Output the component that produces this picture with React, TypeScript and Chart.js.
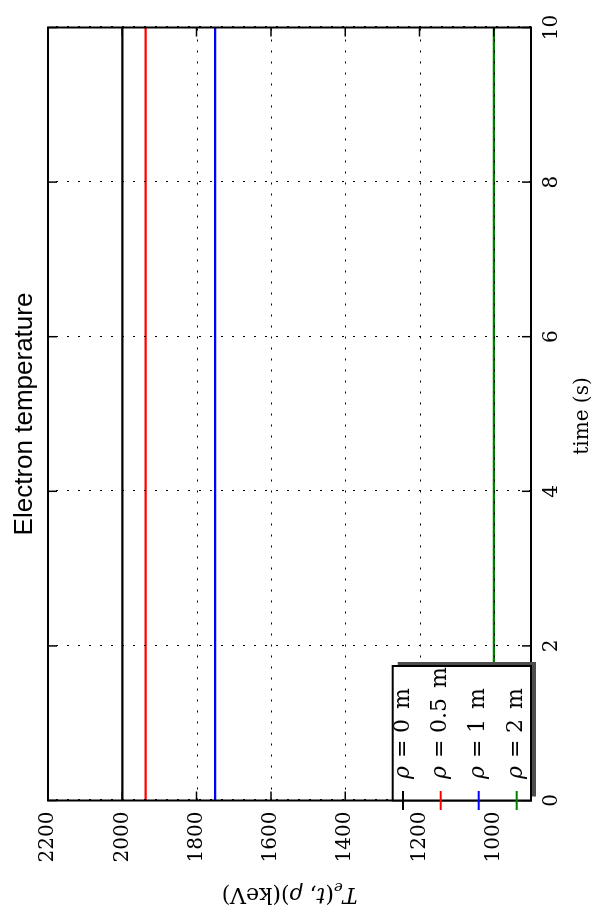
import React, { useEffect, useRef } from 'react';
import { Chart, registerables } from 'chart.js';

Chart.register(...registerables);

// ---- data ----
const timeS = [0, 10];
const rho0m = [2000, 2000];
const rho05m = [1937, 1937];
const rho1m = [1750, 1750];
const rho2m = [1000, 1000];
const seriesValues = [rho0m, rho05m, rho1m, rho2m];
const rhoLabels = ['0', '0.5', '1', '2'];
const seriesColors = ['#000000', '#ff0000', '#0000ff', '#008000'];
const titleText = 'Electron temperature';
const xLabelText = 'time (s)';

const SERIF = '"DejaVu Serif", serif';
const W = 919;
const H = 595;

const decor = {
  id: 'decor',
  afterDatasetsDraw(chart: any) {
    const ctx = chart.ctx as CanvasRenderingContext2D;
    const { left, right, top, bottom } = chart.chartArea;
    const xs = chart.scales.x;
    const ys = chart.scales.y;
    ctx.save();
    // dotted grid (drawn over data like the reference)
    ctx.strokeStyle = '#000';
    ctx.lineWidth = 1;
    ctx.setLineDash([2, 9]);
    xs.ticks.forEach((t: any) => {
      const px = Math.round(xs.getPixelForValue(t.value)) + 0.5;
      ctx.beginPath();
      ctx.moveTo(px, bottom);
      ctx.lineTo(px, top);
      ctx.stroke();
    });
    ys.ticks.forEach((t: any) => {
      const py = Math.round(ys.getPixelForValue(t.value)) + 0.5;
      ctx.beginPath();
      ctx.moveTo(left, py);
      ctx.lineTo(right, py);
      ctx.stroke();
    });
    ctx.setLineDash([]);
    // inward ticks on all four sides
    const tl = 9;
    ctx.lineWidth = 1.5;
    xs.ticks.forEach((t: any) => {
      const px = xs.getPixelForValue(t.value);
      ctx.beginPath();
      ctx.moveTo(px, bottom);
      ctx.lineTo(px, bottom - tl);
      ctx.moveTo(px, top);
      ctx.lineTo(px, top + tl);
      ctx.stroke();
    });
    ys.ticks.forEach((t: any) => {
      const py = ys.getPixelForValue(t.value);
      ctx.beginPath();
      ctx.moveTo(left, py);
      ctx.lineTo(left + tl, py);
      ctx.moveTo(right, py);
      ctx.lineTo(right - tl, py);
      ctx.stroke();
    });
    // frame
    ctx.lineWidth = 2;
    ctx.strokeRect(left, top, right - left, bottom - top);

    // legend with shadow
    const lx = left;
    const lyTop = 392.7;
    const lw = 253 - left;
    const lh = bottom - lyTop;
    ctx.fillStyle = '#4d4d4d';
    ctx.fillRect(lx + 4, lyTop + 5, lw, lh);
    ctx.fillStyle = '#fff';
    ctx.fillRect(lx, lyTop, lw, lh);
    ctx.strokeStyle = '#000';
    ctx.lineWidth = 2;
    ctx.strokeRect(lx, lyTop, lw, lh);
    const rowY = [403, 440.7, 478.7, 516.7];
    rhoLabels.forEach((lab, i) => {
      const y = rowY[i];
      ctx.strokeStyle = seriesColors[i];
      ctx.lineWidth = 2;
      ctx.beginPath();
      ctx.moveTo(109, y);
      ctx.lineTo(128, y);
      ctx.stroke();
      ctx.fillStyle = '#000';
      ctx.textBaseline = 'middle';
      ctx.textAlign = 'left';
      ctx.font = 'italic 22px ' + SERIF;
      ctx.fillText('ρ', 140, y);
      ctx.font = '22px ' + SERIF;
      ctx.fillText('=', 161, y);
      ctx.fillText(lab, 186, y);
      const vw = ctx.measureText(lab).width;
      ctx.fillText('m', 186 + vw + 10, y);
    });
    ctx.restore();
  },
  afterDraw(chart: any) {
    const ctx = chart.ctx as CanvasRenderingContext2D;
    const { left, right, top, bottom } = chart.chartArea;
    ctx.save();
    ctx.fillStyle = '#000';
    // title
    ctx.font = '26px "Liberation Sans", Arial, sans-serif';
    ctx.textAlign = 'center';
    ctx.textBaseline = 'alphabetic';
    ctx.fillText(titleText, (left + right) / 2, 31.5);
    // x label
    ctx.font = '20px ' + SERIF;
    ctx.fillText(xLabelText, (left + right) / 2 - 2, 588);
    // y label: T_e(t, ρ)(keV)
    const segs = [
      { t: 'T', f: 'italic 22px ' + SERIF, dy: 0 },
      { t: 'e', f: 'italic 15px ' + SERIF, dy: 5 },
      { t: '(', f: '22px ' + SERIF, dy: 0 },
      { t: 't', f: 'italic 22px ' + SERIF, dy: 0 },
      { t: ', ', f: '22px ' + SERIF, dy: 0 },
      { t: 'ρ', f: 'italic 22px ' + SERIF, dy: 0 },
      { t: ')(keV)', f: '22px ' + SERIF, dy: 0 },
    ];
    let total = 0;
    const widths = segs.map((s) => {
      ctx.font = s.f;
      const w = ctx.measureText(s.t).width;
      total += w;
      return w;
    });
    ctx.translate(31, (top + bottom) / 2);
    ctx.rotate(-Math.PI / 2);
    ctx.textAlign = 'left';
    let cx = -total / 2;
    segs.forEach((s, i) => {
      ctx.font = s.f;
      ctx.fillText(s.t, cx, s.dy);
      cx += widths[i];
    });
    ctx.restore();
  },
};

export default function App() {
  const ref = useRef<HTMLCanvasElement>(null);
  useEffect(() => {
    const tickFont = { family: SERIF, size: 20 };
    const chart = new Chart(ref.current as HTMLCanvasElement, {
      type: 'line',
      data: {
        datasets: seriesValues.map((vals, i) => ({
          label: 'ρ = ' + rhoLabels[i] + ' m',
          data: timeS.map((t, k) => ({ x: t, y: vals[k] })),
          borderColor: seriesColors[i],
          backgroundColor: seriesColors[i],
          borderWidth: 2.2,
          pointRadius: 0,
          fill: false,
          tension: 0,
        })),
      },
      options: {
        responsive: false,
        animation: false,
        layout: { padding: { top: 48, right: 27.5, left: 0, bottom: 0 } },
        plugins: {
          legend: { display: false },
          tooltip: { enabled: false },
          title: { display: false },
        },
        scales: {
          x: {
            type: 'linear',
            min: 0,
            max: 10,
            afterFit: (s: any) => {
              s.height = 64;
            },
            grid: { display: false, drawTicks: false },
            border: { display: false },
            ticks: {
              stepSize: 2,
              font: tickFont,
              color: '#000',
              padding: 9,
              maxRotation: 0,
              autoSkip: false,
              callback: (v: any) => String(v),
            },
          },
          y: {
            type: 'linear',
            min: 900,
            max: 2200,
            afterFit: (s: any) => {
              s.width = 118.5;
            },
            grid: { display: false, drawTicks: false },
            border: { display: false },
            ticks: {
              stepSize: 200,
              includeBounds: false,
              font: tickFont,
              color: '#000',
              padding: 11,
              autoSkip: false,
              callback: (v: any) => String(v),
            },
          },
        },
      } as any,
      plugins: [decor],
    });
    return () => chart.destroy();
  }, []);

  return (
    <div
      style={{
        position: 'absolute',
        left: 0,
        top: 0,
        width: W,
        height: H,
        transformOrigin: '0 0',
        transform: `translate(0px, ${W}px) rotate(-90deg)`,
        background: '#fff',
      }}
    >
      <canvas ref={ref} width={W} height={H} style={{ display: 'block', width: W, height: H }} />
    </div>
  );
}
